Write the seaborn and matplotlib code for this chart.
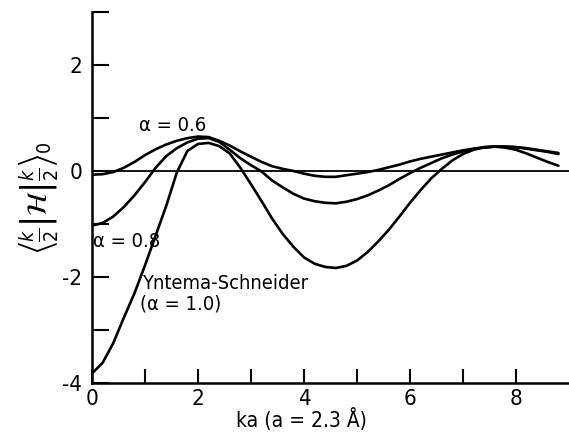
import numpy as np
import pandas as pd
import matplotlib
matplotlib.use('Agg')
import matplotlib.pyplot as plt
import seaborn as sns

# valores (ka de 0 a 8.8, passo 0.2)
ka = [0.0, 0.2, 0.4, 0.6, 0.8, 1.0, 1.2, 1.4, 1.6, 1.8,
      2.0, 2.2, 2.4, 2.6, 2.8, 3.0, 3.2, 3.4, 3.6, 3.8,
      4.0, 4.2, 4.4, 4.6, 4.8, 5.0, 5.2, 5.4, 5.6, 5.8,
      6.0, 6.2, 6.4, 6.6, 6.8, 7.0, 7.2, 7.4, 7.6, 7.8,
      8.0, 8.2, 8.4, 8.6, 8.8]

alpha_06 = [-0.07, -0.06, -0.02, 0.06, 0.17, 0.30, 0.41, 0.50, 0.57, 0.62,
            0.65, 0.64, 0.57, 0.48, 0.37, 0.27, 0.17, 0.09, 0.04, 0.00,
            -0.05, -0.09, -0.11, -0.11, -0.08, -0.05, -0.02, 0.02, 0.07, 0.12,
            0.18, 0.23, 0.27, 0.31, 0.35, 0.39, 0.42, 0.44, 0.46, 0.46,
            0.45, 0.43, 0.40, 0.37, 0.34]

alpha_08 = [-1.03, -0.98, -0.86, -0.68, -0.46, -0.21, 0.06, 0.28, 0.43, 0.54,
            0.61, 0.62, 0.55, 0.40, 0.24, 0.11, -0.01, -0.18, -0.31, -0.43,
            -0.52, -0.57, -0.60, -0.61, -0.58, -0.53, -0.46, -0.37, -0.27, -0.15,
            -0.04, 0.06, 0.15, 0.24, 0.31, 0.37, 0.42, 0.45, 0.46, 0.46,
            0.45, 0.42, 0.39, 0.36, 0.32]

alpha_10 = [-3.82, -3.62, -3.25, -2.77, -2.31, -1.78, -1.22, -0.66, -0.03, 0.38,
            0.51, 0.53, 0.47, 0.33, 0.06, -0.25, -0.57, -0.90, -1.19, -1.43,
            -1.63, -1.75, -1.81, -1.83, -1.79, -1.69, -1.53, -1.33, -1.11, -0.86,
            -0.60, -0.36, -0.14, 0.04, 0.20, 0.32, 0.40, 0.45, 0.46, 0.44,
            0.40, 0.33, 0.25, 0.17, 0.10]

df = pd.DataFrame({'ka': ka * 3,
                   'valor': alpha_06 + alpha_08 + alpha_10,
                   'curva': ['0.6'] * len(ka) + ['0.8'] * len(ka) + ['1.0'] * len(ka)})

sns.set_style('ticks')
plt.rcParams['font.family'] = ['DejaVu Sans']
plt.rcParams['font.stretch'] = 'condensed'
plt.rcParams['text.color'] = 'black'
plt.rcParams['axes.labelcolor'] = 'black'
plt.rcParams['xtick.color'] = 'black'
plt.rcParams['ytick.color'] = 'black'

fig = plt.figure(figsize=(5.69, 4.33), dpi=100)
ax = fig.add_axes([92 / 569, 50 / 433, 477 / 569, 371 / 433])

sns.lineplot(data=df, x='ka', y='valor', units='curva', estimator=None,
             color='black', linewidth=1.9, ax=ax)
ax.axhline(0, color='black', linewidth=1.3)

ax.set_xlim(0, 9.0)
ax.set_ylim(-4, 3)
ax.set_xticks(range(0, 9))
ax.set_xticklabels(['0', '', '2', '', '4', '', '6', '', '8'])
ax.set_yticks(range(-4, 4))
ax.set_yticklabels(['-4', '', '-2', '', '0', '', '2', ''])
ax.tick_params(direction='in', length=12, width=1.5, labelsize=16)
ax.tick_params(axis='x', length=10, pad=4)
ax.tick_params(axis='y', pad=7)
for s in ['top', 'right']:
    ax.spines[s].set_visible(False)
for s in ['left', 'bottom']:
    ax.spines[s].set_linewidth(1.8)
    ax.spines[s].set_color('black')

ax.set_xlabel('ka (a = 2.3 Å)', fontsize=15)
ax.xaxis.set_label_coords(0.44, -0.068)
ax.set_ylabel(r'$\left\langle \frac{k}{2}\right|\mathcal{H}\left|\frac{k}{2}\right\rangle_0$', fontsize=20)
ax.yaxis.set_label_coords(-0.067, 0.5)

ax.text(1.53, 0.85, 'α = 0.6', fontsize=14.5, ha='center', va='center')
ax.text(0.02, -1.33, 'α = 0.8', fontsize=14.5, ha='left', va='center')
ax.text(0.95, -2.12, 'Yntema-Schneider', fontsize=14.5, ha='left', va='center')
ax.text(0.9, -2.5, '(α = 1.0)', fontsize=14.5, ha='left', va='center')

plt.savefig('out.png', dpi=100)
